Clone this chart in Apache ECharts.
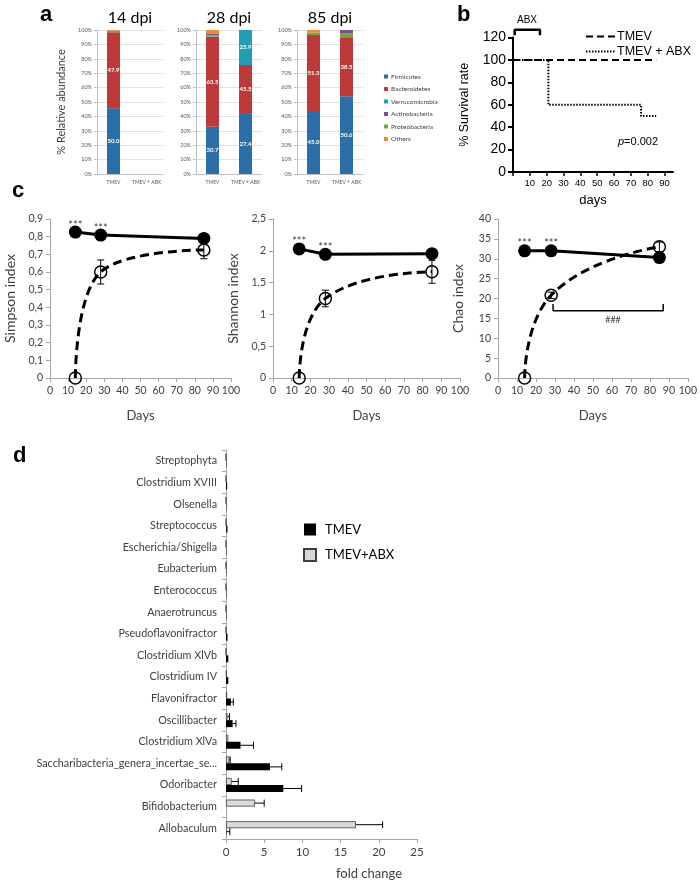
<!DOCTYPE html>
<html><head><meta charset="utf-8">
<script src="https://cdn.jsdelivr.net/npm/echarts@6/dist/echarts.min.js"></script>
<style>html,body{margin:0;padding:0;background:#fff}#c{width:700px;height:883px}</style>
</head><body><div id="c"></div>
<script>
// ---------- Panel a data ----------
const aTitles = ['14 dpi', '28 dpi', '85 dpi'];
const aCats = ['TMEV', 'TMEV + ABX'];
const phylaLegend = ['Firmicutes', 'Bacteroidetes', 'Verrucomicrobia', 'Actinobacteria', 'Proteobacteria', 'Others'];
// six bars: 14 TMEV, 14 ABX, 28 TMEV, 28 ABX, 85 TMEV, 85 ABX
const firmicutes      = [45.6, 0, 32.8, 41.7, 43.8, 54.0];
const bacteroidetes   = [52.8, 0, 62.5, 34.0, 52.7, 41.0];
const verrucomicrobia = [0, 0, 0.3, 24.3, 0, 0];
const proteobacteria  = [1.0, 0, 0.8, 0, 1.5, 2.5];
const actinobacteria  = [0.2, 0, 0.8, 0, 0.2, 2.5];
const others          = [0.4, 0, 2.8, 0, 1.8, 0];
const firmLabels = ['50.0', '', '30.7', '27.4', '45.0', '50.6'];
const bactLabels = ['47.9', '', '63.5', '45.5', '51.3', '38.5'];
const verrLabels = ['', '', '', '25.9', '', ''];

// ---------- Panel b data ----------
const bXTicks = [0, 10, 20, 30, 40, 50, 60, 70, 80, 90];
const bXLabels = [10, 20, 30, 40, 50, 60, 70, 80, 90];
const tmevDays = [0, 85];
const tmevSurv = [100, 100];
const abxDays = [0, 21, 76, 85];
const abxSurv = [100, 60, 50, 50];
const abxPeriod = [1, 16];

// ---------- Panel c data ----------
const cDays = [14, 28, 85];
const stars = ['***', '***', ''];
const simpsonTMEV = [0.826, 0.809, 0.79];
const simpsonTMEVErr = [0.005, 0.008, 0.01];
const simpsonABX = [0, 0.60, 0.725];
const simpsonABXErr = [0, 0.068, 0.05];
const shannonTMEV = [2.03, 1.945, 1.955];
const shannonTMEVErr = [0.02, 0.03, 0.03];
const shannonABX = [0, 1.25, 1.67];
const shannonABXErr = [0, 0.13, 0.18];
const chaoTMEV = [32.0, 32.0, 30.3];
const chaoTMEVErr = [0.3, 0.3, 0.5];
const chaoABX = [0, 20.8, 33.0];
const chaoABXErr = [0, 0.8, 1.2];
const chaoBracket = [29, 87];

// ---------- Panel d data ----------
const genera = ['Streptophyta', 'Clostridium XVIII', 'Olsenella', 'Streptococcus', 'Escherichia/Shigella',
  'Eubacterium', 'Enterococcus', 'Anaerotruncus', 'Pseudoflavonifractor', 'Clostridium XlVb', 'Clostridium IV',
  'Flavonifractor', 'Oscillibacter', 'Clostridium XlVa', 'Saccharibacteria_genera_incertae_se...', 'Odoribacter',
  'Bifidobacterium', 'Allobaculum'];
const tmevFold    = [0.05, 0.15, 0.05, 0.08, 0.05, 0.05, 0.05, 0.05, 0.2, 0.3, 0.3, 0.65, 0.87, 1.9, 5.76, 7.5, 0, 0.05];
const tmevFoldErr = [0, 0, 0, 0.05, 0, 0, 0, 0, 0, 0, 0, 0.31, 0.43, 1.7, 1.54, 2.4, 0, 0.45];
const abxFold     = [0, 0, 0, 0, 0, 0, 0, 0, 0, 0, 0.08, 0.15, 0.2, 0.3, 0.45, 0.75, 3.8, 17.0];
const abxFoldErr  = [0, 0, 0, 0, 0, 0, 0, 0, 0, 0, 0, 0, 0.25, 0, 0.1, 0.85, 1.2, 3.5];

// ---------- build ----------
const chart = echarts.init(document.getElementById('c'), null, {renderer: 'canvas'});
const CAL = 'Lato';
const grids = [];
const xAxes = [];
const yAxes = [];
const series = [];

// Panel a
const aLefts = [97, 196, 297];
const phylaColors = {Firmicutes: '#2c6ea8', Bacteroidetes: '#be3a3a', Verrucomicrobia: '#1f9eb4',
  Actinobacteria: '#7a509c', Proteobacteria: '#74a83e', Others: '#f2892e'};
const stackOrder = [
  ['Firmicutes', firmicutes, firmLabels],
  ['Bacteroidetes', bacteroidetes, bactLabels],
  ['Verrucomicrobia', verrucomicrobia, verrLabels],
  ['Proteobacteria', proteobacteria, null],
  ['Actinobacteria', actinobacteria, null],
  ['Others', others, null]
];
aLefts.forEach((left, g) => {
  grids.push({left: left, top: 30, width: 66, height: 144, containLabel: false});
  xAxes.push({type: 'category', gridIndex: g, data: aCats,
    axisLine: {lineStyle: {color: '#bfbfbf'}}, axisTick: {lineStyle: {color: '#bfbfbf'}, length: 3},
    axisLabel: {fontSize: 5, color: '#595959', fontFamily: CAL, margin: 6, interval: 0, hideOverlap: false}});
  yAxes.push({type: 'value', gridIndex: g, min: 0, max: 100, interval: 10,
    axisLine: {show: true, lineStyle: {color: '#bfbfbf'}}, axisTick: {show: true, length: 3, lineStyle: {color: '#bfbfbf'}},
    splitLine: {lineStyle: {color: '#d9d9d9', width: 0.8}},
    axisLabel: {fontSize: 5.5, color: '#595959', fontFamily: CAL, margin: 5, formatter: '{value}%'},
    name: g === 0 ? '% Relative abundance' : '', nameLocation: 'middle', nameGap: 30,
    nameTextStyle: {fontSize: 11, color: '#404040', fontFamily: CAL}});
  stackOrder.forEach(([name, arr, labels]) => {
    series.push({type: 'bar', name: name, xAxisIndex: g, yAxisIndex: g, stack: 'a' + g, barWidth: 13,
      itemStyle: {color: phylaColors[name]},
      label: labels ? {show: true, position: 'inside', color: '#fff', fontSize: 6, fontWeight: 'bold', fontFamily: CAL,
        formatter: p => labels[g * 2 + p.dataIndex]} : {show: false},
      data: [arr[g * 2], arr[g * 2 + 1]]});
  });
});

// Panel b (grid 3)
grids.push({left: 513, top: 37.6, width: 160, height: 134.4, containLabel: false});
xAxes.push({type: 'value', gridIndex: 3, min: 0, max: 95,
  axisLine: {lineStyle: {color: '#000', width: 2}},
  axisTick: {show: true, length: 4, lineStyle: {color: '#000', width: 1.5}, customValues: bXTicks},
  axisLabel: {fontSize: 9.5, color: '#000', fontFamily: 'Liberation Sans', margin: 6, customValues: bXLabels},
  splitLine: {show: false},
  name: 'days', nameLocation: 'middle', nameGap: 22, nameTextStyle: {fontSize: 13, color: '#000', fontFamily: 'Liberation Sans'}});
yAxes.push({type: 'value', gridIndex: 3, min: 0, max: 120, interval: 20,
  axisLine: {show: true, lineStyle: {color: '#000', width: 2}},
  axisTick: {show: true, length: 5, lineStyle: {color: '#000', width: 2}},
  axisLabel: {fontSize: 14, color: '#000', fontFamily: 'Liberation Sans', margin: 7},
  splitLine: {show: false},
  name: '% Survival rate', nameLocation: 'middle', nameGap: 42, nameTextStyle: {fontSize: 12.5, color: '#000', fontFamily: 'Liberation Sans'}});
series.push({type: 'line', name: 'b:TMEV', xAxisIndex: 3, yAxisIndex: 3, symbol: 'none',
  itemStyle: {color: '#000'},
  lineStyle: {color: '#000', width: 2, type: [7, 4]}, data: tmevDays.map((d, i) => [d, tmevSurv[i]])});
series.push({type: 'line', name: 'b:TMEV + ABX', xAxisIndex: 3, yAxisIndex: 3, symbol: 'none', step: 'end',
  itemStyle: {color: '#000'},
  lineStyle: {color: '#000', width: 2, type: [1.5, 1.5]}, data: abxDays.map((d, i) => [d, abxSurv[i]])});
series.push({type: 'line', name: 'ABX period', xAxisIndex: 3, yAxisIndex: 3, symbol: 'none', clip: false,
  lineStyle: {color: '#000', width: 2.5},
  data: [[abxPeriod[0], 122], [abxPeriod[0], 127], [abxPeriod[1], 127], [abxPeriod[1], 122]]});

// Panel c (grids 4,5,6)
const cGrids = [
  {left: 50, width: 181, name: 'Simpson index', max: 0.9, interval: 0.1, tm: simpsonTMEV, tmE: simpsonTMEVErr, ab: simpsonABX, abE: simpsonABXErr},
  {left: 273, width: 187, name: 'Shannon index', max: 2.5, interval: 0.5, tm: shannonTMEV, tmE: shannonTMEVErr, ab: shannonABX, abE: shannonABXErr},
  {left: 498, width: 195, name: 'Chao index', max: 40, interval: 5, tm: chaoTMEV, tmE: chaoTMEVErr, ab: chaoABX, abE: chaoABXErr}
];
function errBarSeries(gi, ys, es, z) {
  return {type: 'custom', xAxisIndex: gi, yAxisIndex: gi, z: z, silent: true,
    data: cDays.map((d, i) => [d, ys[i], es[i]]),
    renderItem: (params, api) => {
      const x = api.value(0), y = api.value(1), e = api.value(2);
      if (!e) return null;
      const t = api.coord([x, y + e]), b = api.coord([x, y - e]);
      const st = {stroke: '#000', lineWidth: 1};
      return {type: 'group', children: [
        {type: 'line', shape: {x1: t[0], y1: t[1], x2: b[0], y2: b[1]}, style: st},
        {type: 'line', shape: {x1: t[0] - 3.5, y1: t[1], x2: t[0] + 3.5, y2: t[1]}, style: st},
        {type: 'line', shape: {x1: b[0] - 3.5, y1: b[1], x2: b[0] + 3.5, y2: b[1]}, style: st}
      ]};
    }};
}
cGrids.forEach((c, k) => {
  const gi = 4 + k;
  grids.push({left: c.left, top: 219, width: c.width, height: 159, containLabel: false});
  xAxes.push({type: 'value', gridIndex: gi, min: 0, max: 100, interval: 10,
    axisLine: {lineStyle: {color: '#a6a6a6'}}, axisTick: {show: true, length: 4, lineStyle: {color: '#a6a6a6'}},
    splitLine: {show: false},
    axisLabel: {fontSize: 10.5, color: '#404040', fontFamily: CAL, margin: 7},
    name: 'Days', nameLocation: 'middle', nameGap: 31, nameTextStyle: {fontSize: 13, color: '#404040', fontFamily: CAL}});
  yAxes.push({type: 'value', gridIndex: gi, min: 0, max: c.max, interval: c.interval,
    axisLine: {show: true, lineStyle: {color: '#a6a6a6'}}, axisTick: {show: true, length: 4, lineStyle: {color: '#a6a6a6'}},
    splitLine: {show: false},
    axisLabel: {fontSize: 10.5, color: '#404040', fontFamily: CAL, margin: 7,
      formatter: v => String(Math.round(v * 10) / 10).replace('.', ',')},
    name: c.name, nameLocation: 'middle', nameGap: 33, nameTextStyle: {fontSize: 14, color: '#404040', fontFamily: CAL}});
  series.push({type: 'line', name: 'c' + k + ':TMEV + ABX', xAxisIndex: gi, yAxisIndex: gi, smooth: 0.5,
    symbol: 'circle', symbolSize: 12, z: 3,
    itemStyle: {color: 'rgba(255,255,255,0)', borderColor: '#000', borderWidth: 1.5},
    lineStyle: {color: '#000', width: 3, type: [9, 5]},
    data: cDays.map((d, i) => [d, c.ab[i]])});
  series.push(errBarSeries(gi, c.ab, c.abE, 5));
  series.push(errBarSeries(gi, c.tm, c.tmE, 2));
  series.push({type: 'line', name: 'c' + k + ':TMEV', xAxisIndex: gi, yAxisIndex: gi,
    symbol: 'circle', symbolSize: 13, z: 4,
    itemStyle: {color: '#000'}, lineStyle: {color: '#000', width: 3},
    label: {show: true, position: 'top', distance: -5, fontSize: 11, color: '#404040', fontFamily: CAL,
      formatter: p => stars[p.dataIndex]},
    data: cDays.map((d, i) => [d, c.tm[i]])});
});
series.push({type: 'line', name: 'chao bracket', xAxisIndex: 6, yAxisIndex: 6, symbol: 'none',
  lineStyle: {color: '#000', width: 1.5},
  data: [[chaoBracket[0], 18.6], [chaoBracket[0], 16.9], [chaoBracket[1], 16.9], [chaoBracket[1], 18.6]]});

// Panel d (grid 7)
grids.push({left: 226, top: 450, width: 191, height: 389, containLabel: false});
xAxes.push({type: 'value', gridIndex: 7, min: 0, max: 25, interval: 5,
  axisLine: {show: true, lineStyle: {color: '#a6a6a6'}}, axisTick: {show: true, length: 4, lineStyle: {color: '#a6a6a6'}},
  splitLine: {show: false},
  axisLabel: {fontSize: 11.5, color: '#404040', fontFamily: CAL, margin: 7}});
yAxes.push({type: 'category', gridIndex: 7, data: genera, inverse: true,
  axisLine: {lineStyle: {color: '#a6a6a6'}}, axisTick: {show: true, length: 4, lineStyle: {color: '#a6a6a6'}},
  axisLabel: {fontSize: 10.8, color: '#404040', fontFamily: CAL, margin: 9}});
series.push({type: 'bar', name: 'd:TMEV+ABX', xAxisIndex: 7, yAxisIndex: 7, barWidth: 7, barGap: '0%',
  itemStyle: {color: '#d9d9d9', borderColor: '#404040', borderWidth: 0.8}, data: abxFold});
series.push({type: 'bar', name: 'd:TMEV', xAxisIndex: 7, yAxisIndex: 7, barWidth: 7, barGap: '0%',
  itemStyle: {color: '#000'}, data: tmevFold});
function hErrSeries(vals, errs, off) {
  return {type: 'custom', xAxisIndex: 7, yAxisIndex: 7, silent: true, z: 5,
    data: vals.map((v, i) => [v, i, errs[i]]),
    renderItem: (params, api) => {
      const v = api.value(0), i = api.value(1), e = api.value(2);
      if (!e) return null;
      const a = api.coord([v, i]), b = api.coord([v + e, i]);
      const y = a[1] + off;
      const st = {stroke: '#000', lineWidth: 1};
      return {type: 'group', children: [
        {type: 'line', shape: {x1: a[0], y1: y, x2: b[0], y2: y}, style: st},
        {type: 'line', shape: {x1: b[0], y1: y - 3.5, x2: b[0], y2: y + 3.5}, style: st}
      ]};
    }};
}
series.push(hErrSeries(abxFold, abxFoldErr, -3.5));
series.push(hErrSeries(tmevFold, tmevFoldErr, 3.5));

const option = {
  animation: false,
  backgroundColor: '#fff',
  grid: grids, xAxis: xAxes, yAxis: yAxes, series: series,
  legend: [
    {data: phylaLegend, orient: 'vertical', left: 379, top: 68, itemWidth: 4, itemHeight: 4, itemGap: 5.5,
      icon: 'rect', textStyle: {fontSize: 6.5, color: '#404040', fontFamily: CAL, padding: [0, 0, 0, -2]}, selectedMode: false},
    {data: ['b:TMEV', 'b:TMEV + ABX'], orient: 'vertical', left: 580, top: 25, itemWidth: 30, itemHeight: 12, itemGap: 2,
      itemStyle: {opacity: 0}, lineStyle: {color: '#000', width: 2},
      formatter: n => n.slice(2), textStyle: {fontSize: 12.5, color: '#000', fontFamily: 'Liberation Sans', padding: [0, 0, 0, -4]},
      selectedMode: false},
    {data: ['d:TMEV', 'd:TMEV+ABX'], orient: 'vertical', left: 298, top: 518, itemWidth: 12, itemHeight: 12, itemGap: 12,
      icon: 'rect',
      formatter: n => n.slice(2), textStyle: {fontSize: 13, color: '#000', fontFamily: CAL, padding: [0, 0, 0, 4]},
      selectedMode: false}
  ],
  graphic: [
    {type: 'text', left: 40, top: 4, style: {text: 'a', font: 'bold 22px Arial', fill: '#000'}},
    {type: 'text', left: 457, top: 4, style: {text: 'b', font: 'bold 22px Arial', fill: '#000'}},
    {type: 'text', left: 12, top: 180, style: {text: 'c', font: 'bold 22px Arial', fill: '#000'}},
    {type: 'text', left: 13, top: 445, style: {text: 'd', font: 'bold 22px Arial', fill: '#000'}},
    {type: 'text', x: 130, y: 18, style: {text: aTitles[0], font: '16px Lato', fill: '#000', textAlign: 'center', textVerticalAlign: 'middle'}},
    {type: 'text', x: 229, y: 18, style: {text: aTitles[1], font: '16px Lato', fill: '#000', textAlign: 'center', textVerticalAlign: 'middle'}},
    {type: 'text', x: 330, y: 18, style: {text: aTitles[2], font: '16px Lato', fill: '#000', textAlign: 'center', textVerticalAlign: 'middle'}},
    {type: 'text', x: 527, y: 20, style: {text: 'ABX', font: '10px "Liberation Sans"', fill: '#000', textAlign: 'center', textVerticalAlign: 'middle'}},
    {type: 'text', x: 638, y: 142, style: {text: '{i|p}=0.002', font: '11px "Liberation Sans"', fill: '#000', textAlign: 'center', textVerticalAlign: 'middle',
      rich: {i: {fontStyle: 'italic', fontSize: 11, fontFamily: 'Liberation Sans'}}}},
    {type: 'text', x: 613, y: 320, style: {text: '###', font: '9px Lato', fill: '#404040', textAlign: 'center', textVerticalAlign: 'middle'}},
    {type: 'text', x: 369, y: 874, style: {text: 'fold change', font: '13px Lato', fill: '#404040', textAlign: 'center', textVerticalAlign: 'middle'}}
  ]
};
chart.setOption(option);
</script></body></html>
